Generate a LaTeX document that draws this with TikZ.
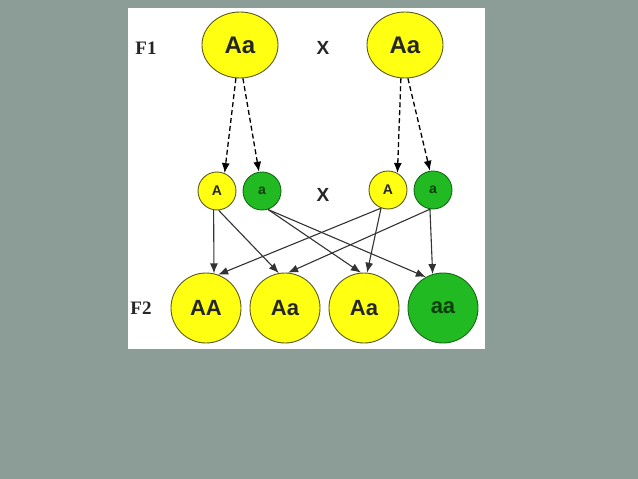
\documentclass[tikz,border=0pt]{standalone}
\usepackage{fontspec}
\setmainfont{Liberation Sans}
\newfontfamily\labelfont{Liberation Serif}
\usepackage{xcolor}
\definecolor{genBg}{HTML}{8C9D98}
\definecolor{genYellow}{HTML}{FFFF12}
\definecolor{genYellowLine}{HTML}{5C5A1E}
\definecolor{genGreen}{HTML}{22BA22}
\definecolor{genGreenLine}{HTML}{146A14}
\definecolor{genGreenText}{HTML}{0C3F0C}
\usetikzlibrary{shapes.geometric,arrows.meta}

\tikzset{
  parentNode/.style={ellipse, fill=genYellow, draw=genYellowLine, line width=0.9pt,
    minimum width=76pt, minimum height=66pt, inner sep=0pt,
    font=\fontsize{24}{24}\selectfont\bfseries, text=black!85},
  childNode/.style={circle, draw=genYellowLine, fill=genYellow, line width=0.9pt,
    minimum size=70pt, inner sep=0pt,
    font=\fontsize{22}{22}\selectfont\bfseries, text=black!85},
  gameteNode/.style={circle, draw=genYellowLine, fill=genYellow, line width=0.9pt,
    minimum size=38pt, inner sep=0pt,
    font=\fontsize{14}{14}\selectfont\bfseries, text=black!85},
  greenNode/.style={fill=genGreen, draw=genGreenLine, text=genGreenText},
  crossLabel/.style={font=\fontsize{19}{19}\selectfont\bfseries, text=black!85},
  genLabel/.style={font=\labelfont\fontsize{19}{19}\selectfont\bfseries, text=black!85},
  dashArrow/.style={-{Latex[length=10pt,width=8pt]}, line width=1.3pt, dash pattern=on 5pt off 3pt},
  crossArrow/.style={-{Latex[length=10pt,width=8pt]}, line width=1.1pt, draw=black!80}
}

\begin{document}
\begin{tikzpicture}[x=1pt,y=-1pt]
  \fill[genBg] (0,0) rectangle (638,479);
  \useasboundingbox (0,0) rectangle (638,479);
  \fill[white] (128,8) rectangle (485,349);
  \node[genLabel] (labF1) at (146,48) {F1};
  \node[parentNode] (f1L) at (240,45) {Aa};
  \node[crossLabel] (crossTop) at (323,48) {X};
  \node[parentNode] (f1R) at (405,45) {Aa};
  \node[gameteNode] (gA1) at (217,191) {A};
  \node[gameteNode, greenNode] (ga1) at (262,191) {a};
  \node[crossLabel] (crossMid) at (323,195) {X};
  \node[gameteNode] (gA2) at (388,190) {A};
  \node[gameteNode, greenNode] (ga2) at (433,190) {a};
  \node[genLabel] (labF2) at (141,308) {F2};
  \node[childNode] (AA) at (206,308) {AA};
  \node[childNode] (Aa1) at (285,308) {Aa};
  \node[childNode] (Aa2) at (364,308) {Aa};
  \node[childNode, greenNode] (aa) at (443,308) {aa};
  \draw[dashArrow] (f1L.-97) -- (gA1.67);
  \draw[dashArrow] (f1L.-85) -- (ga1.99);
  \draw[dashArrow] (f1R.-97) -- (gA2.61);
  \draw[dashArrow] (f1R.-85) -- (ga2.99);
  \draw[crossArrow] (gA1.-100) -- (AA.77);
  \draw[crossArrow] (gA1.-85) -- (Aa1.100);
  \draw[crossArrow] (ga1.-72) -- (Aa2.95);
  \draw[crossArrow] (ga1.-72) -- (aa.119);
  \draw[crossArrow] (gA2.-111) -- (AA.70);
  \draw[crossArrow] (gA2.-111) -- (Aa2.85);
  \draw[crossArrow] (ga2.-99) -- (Aa1.85);
  \draw[crossArrow] (ga2.-99) -- (aa.107);
\end{tikzpicture}
\end{document}
